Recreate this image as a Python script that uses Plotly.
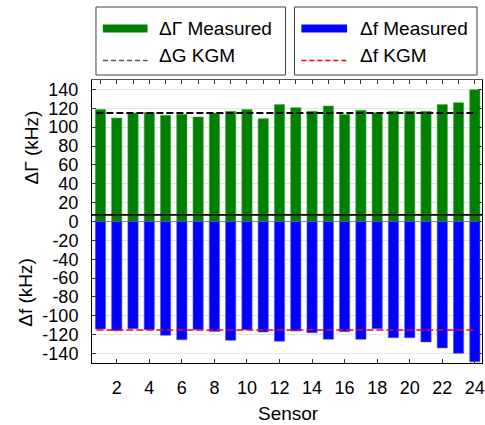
import plotly.graph_objects as go

# ---------------- data ----------------
sensors = list(range(1, 25))
gamma_measured = [118.6, 109.7, 115.0, 115.5, 112.6, 113.6, 110.8, 115.0, 116.8, 118.6,
                  109.0, 123.9, 120.7, 116.8, 122.4, 113.3, 117.9, 115.4, 116.8, 116.8,
                  116.8, 123.9, 126.0, 139.7]
f_measured = [-114.0, -115.8, -113.6, -114.7, -120.7, -125.3, -114.7, -116.5, -126.0, -114.7,
              -117.1, -127.0, -116.1, -117.9, -124.9, -116.8, -124.9, -113.6, -123.2, -123.2,
              -127.7, -134.0, -139.7, -148.8]
kgm_x = [0.75, 23.95]
gamma_kgm = [115.0, 115.0]
f_kgm = [-115.0, -115.0]
y_tickvals = [140, 120, 100, 80, 60, 40, 20, 0, -20, -40, -60, -80, -100, -120, -140]
y_ticktext = ["140", "120", "100", "80", "60", "40", "20", "0", "-20", "-40", "-60", "-80",
              "-100", "-120", "-140"]
x_tickvals = [2, 4, 6, 8, 10, 12, 14, 16, 18, 20, 22, 24]
separator_y = 7

# ---------------- layout geometry ----------------
W, H = 485, 425
L, R, T, B = 92, 0, 80, 62
PW, PH = W - L - R, H - T - B
FONT = "Liberation Sans, Arial, sans-serif"


def px_x(px):
    return (px - L) / PW


def px_y(py):
    return (H - B - py) / PH


fig = go.Figure()

fig.add_trace(go.Bar(x=sensors, y=gamma_measured, width=0.63,
                     marker=dict(color="#008000", line=dict(color="#4da64d", width=0.6)),
                     showlegend=False))
fig.add_trace(go.Bar(x=sensors, y=f_measured, width=0.63,
                     marker=dict(color="#0000ff", line=dict(color="#5a5aff", width=0.6)),
                     showlegend=False))
fig.add_trace(go.Scatter(x=kgm_x, y=gamma_kgm, mode="lines", xaxis="x2",
                         line=dict(color="black", width=2, dash="7px,3px"),
                         showlegend=False))
fig.add_trace(go.Scatter(x=kgm_x, y=f_kgm, mode="lines",
                         line=dict(color="#ff0000", width=1.6, dash="7px,3px"),
                         showlegend=False))

xr = [0.48, 24.44]
fig.update_layout(
    width=W, height=H,
    margin=dict(l=L, r=R, t=T, b=B, pad=0),
    paper_bgcolor="white", plot_bgcolor="white",
    barmode="overlay",
    font=dict(family=FONT, size=19, color="black"),
    xaxis=dict(range=xr, tickvals=x_tickvals, ticks="inside", ticklen=4, tickcolor="#333",
               showline=True, linecolor="black", linewidth=1, mirror=False,
               showgrid=False, zeroline=False, ticklabelstandoff=8,
               ticklabeloverflow="allow",
               tickfont=dict(size=18, family=FONT, color="black")),
    xaxis2=dict(range=xr, overlaying="x", side="top", dtick=1, tick0=1,
                ticks="inside", ticklen=4, tickcolor="#333",
                showline=True, linecolor="#555", linewidth=1,
                showticklabels=False, showgrid=False, zeroline=False),
    yaxis=dict(range=[-150, 150], tickvals=y_tickvals, ticktext=y_ticktext,
               ticks="inside", ticklen=4, tickcolor="#333",
               showline=True, linecolor="black", linewidth=1, mirror="ticks",
               showgrid=True, gridcolor="#e2e2e2", gridwidth=1,
               zeroline=True, zerolinecolor="#8c8c8c", zerolinewidth=1,
               ticklabelstandoff=9,
               tickfont=dict(size=18, family=FONT, color="black")),
    showlegend=False,
)

shapes = [
    # separator line
    dict(type="line", xref="paper", yref="y", x0=0, x1=1, y0=separator_y, y1=separator_y,
         line=dict(color="black", width=1.6), layer="above"),
]
annotations = []

# y axis titles
annotations.append(dict(text="ΔΓ (kHz)", xref="paper", yref="y", x=px_x(32), y=79,
                        textangle=-90, showarrow=False, xanchor="center", yanchor="middle",
                        font=dict(size=19, family=FONT, color="black")))
annotations.append(dict(text="Δf (kHz)", xref="paper", yref="y", x=px_x(25), y=-75,
                        textangle=-90, showarrow=False, xanchor="center", yanchor="middle",
                        font=dict(size=19, family=FONT, color="black")))
# x axis title
annotations.append(dict(text="Sensor", xref="paper", yref="paper", x=px_x(290), y=px_y(413),
                        showarrow=False, xanchor="center", yanchor="middle",
                        font=dict(size=19, family=FONT, color="black")))

# legend boxes (drawn manually)
legend_boxes = [
    dict(x0=96, x1=287, sym_x0=103, sym_x1=148, txt_x=158,
         items=[("bar", "#008000", "ΔΓ Measured"), ("dash", "#555555", "ΔG KGM")]),
    dict(x0=296, x1=480, sym_x0=303, sym_x1=349, txt_x=360,
         items=[("bar", "#0000ff", "Δf Measured"), ("dash", "#ff0000", "Δf KGM")]),
]
row_y = [28.5, 55.5]
for box in legend_boxes:
    shapes.append(dict(type="rect", xref="paper", yref="paper",
                       x0=px_x(box["x0"]), x1=px_x(box["x1"]), y0=px_y(75), y1=px_y(7),
                       line=dict(color="#404040", width=1), fillcolor="white"))
    for (kind, color, label), ry in zip(box["items"], row_y):
        if kind == "bar":
            shapes.append(dict(type="rect", xref="paper", yref="paper",
                               x0=px_x(box["sym_x0"]), x1=px_x(box["sym_x1"]),
                               y0=px_y(ry + 4), y1=px_y(ry - 4),
                               line=dict(width=0), fillcolor=color))
        else:
            shapes.append(dict(type="line", xref="paper", yref="paper",
                               x0=px_x(box["sym_x0"]), x1=px_x(box["sym_x1"]),
                               y0=px_y(ry + 5), y1=px_y(ry + 5),
                               line=dict(color=color, width=1.3, dash="5px,3px")))
        annotations.append(dict(text=label, xref="paper", yref="paper",
                                x=px_x(box["txt_x"]), y=px_y(ry), showarrow=False,
                                xanchor="left", yanchor="middle",
                                font=dict(size=19, family=FONT, color="black")))

fig.update_layout(shapes=shapes, annotations=annotations)
fig.write_html("out.html")
